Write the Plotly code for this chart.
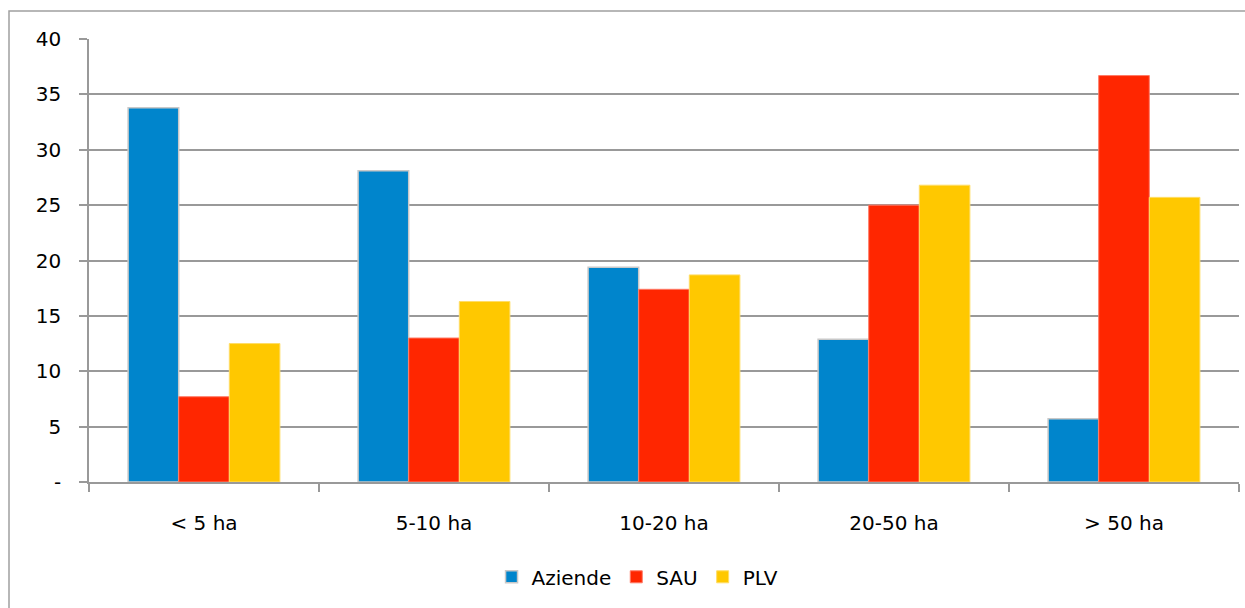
import plotly.graph_objects as go

# Farm size classes and the share (%) of farms, UAA and production value in each
categories = ["< 5 ha", "5-10 ha", "10-20 ha", "20-50 ha", "> 50 ha"]
aziende = [33.8, 28.1, 19.4, 12.9, 5.7]
sau = [7.7, 13.0, 17.4, 25.0, 36.7]
plv = [12.5, 16.3, 18.7, 26.8, 25.7]

y_ticks = [0, 5, 10, 15, 20, 25, 30, 35, 40]
y_tick_text = ["-", "5", "10", "15", "20", "25", "30", "35", "40"]

FONT = "'DejaVu Sans', 'Open Sans', sans-serif"
GRID = "#999999"

fig = go.Figure()
fig.add_trace(go.Bar(name="Aziende", x=categories, y=aziende,
                     marker=dict(color="#0085CC", line=dict(color="#C8C8C8", width=1.5))))
fig.add_trace(go.Bar(name="SAU", x=categories, y=sau,
                     marker=dict(color="#FF2600", line=dict(color="#FF7A66", width=1))))
fig.add_trace(go.Bar(name="PLV", x=categories, y=plv,
                     marker=dict(color="#FFC800", line=dict(color="#FFDD66", width=1))))

# Outer chart frame
fig.add_shape(type="rect", xref="paper", yref="paper",
              x0=(9 - 89) / 1150, x1=1.05, y0=-0.5, y1=(482 - 11) / 443,
              line=dict(color="#A0A0A0", width=1.5), fillcolor="rgba(0,0,0,0)", layer="below")

fig.update_layout(
    width=1245, height=608,
    margin=dict(l=89, r=6, t=39, b=126),
    paper_bgcolor="white", plot_bgcolor="white",
    barmode="group", bargap=0.34, bargroupgap=0,
    font=dict(family=FONT, size=20, color="#000000"),
    showlegend=True,
    legend=dict(orientation="h", x=0.477, xanchor="center", y=-0.17, yanchor="top",
                font=dict(family=FONT, size=20), itemwidth=30, traceorder="normal"),
    xaxis=dict(type="category", showline=True, linecolor=GRID, linewidth=1.5,
               ticks="outside", tickson="boundaries", ticklen=8, tickcolor=GRID, tickwidth=1.5,
               showgrid=False, tickfont=dict(size=20), ticklabelstandoff=22),
    yaxis=dict(range=[0, 40], tickvals=y_ticks, ticktext=y_tick_text,
               showgrid=True, gridcolor=GRID, gridwidth=1.5,
               showline=True, linecolor=GRID, linewidth=1.5,
               ticks="outside", ticklen=8, tickcolor=GRID, tickwidth=1.5,
               tickfont=dict(size=20), ticklabelstandoff=14, zeroline=False),
)

fig.write_html("out.html")
